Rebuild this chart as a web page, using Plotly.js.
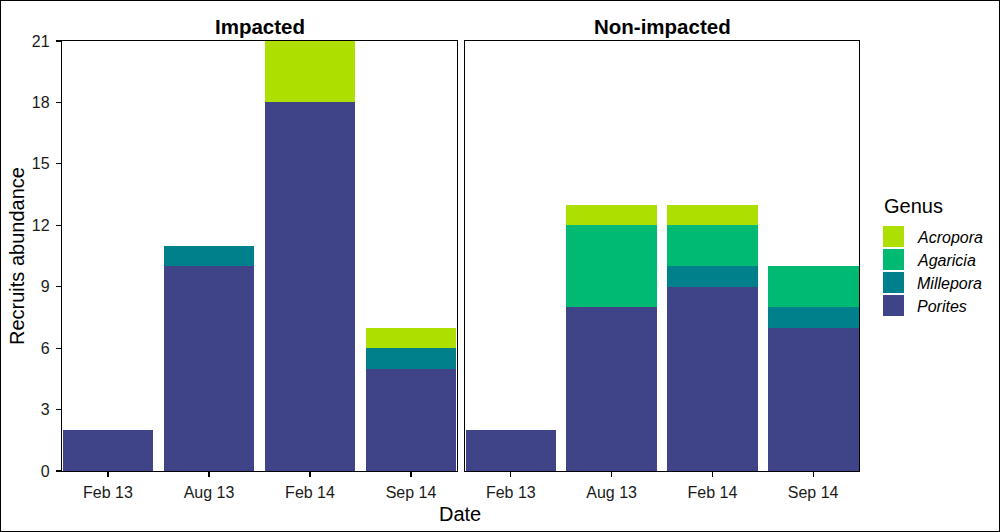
<!DOCTYPE html>
<html>
<head>
<meta charset="utf-8">
<script src="https://cdn.plot.ly/plotly-3.0.1.min.js"></script>
<style>html,body{margin:0;padding:0;background:#fff;}#chart{width:1000px;height:532px;}</style>
</head>
<body>
<div id="chart"></div>
<script>
var dates = ["Feb 13", "Aug 13", "Feb 14", "Sep 14"];
var panels = ["Impacted", "Non-impacted"];
var genera = ["Porites", "Millepora", "Agaricia", "Acropora"];
var colors = ["#3F4489", "#00808A", "#00BA74", "#ADE000"];
// values per genus: [Impacted], [Non-impacted]
var porites_imp = [2, 10, 18, 5];
var porites_non = [2, 8, 9, 7];
var millepora_imp = [0, 1, 0, 1];
var millepora_non = [0, 0, 1, 1];
var agaricia_imp = [0, 0, 0, 0];
var agaricia_non = [0, 4, 2, 2];
var acropora_imp = [0, 0, 3, 1];
var acropora_non = [0, 1, 1, 0];
var yTicks = [0, 3, 6, 9, 12, 15, 18, 21];

var impVals = [porites_imp, millepora_imp, agaricia_imp, acropora_imp];
var nonVals = [porites_non, millepora_non, agaricia_non, acropora_non];

var W = 1000, H = 532;
function px(x){ return x / W; }
function py(y){ return 1 - y / H; }

var traces = [];
for (var g = 0; g < genera.length; g++) {
  traces.push({type:'bar', x:dates, y:impVals[g], name:genera[g], marker:{color:colors[g], line:{width:0}},
    xaxis:'x', yaxis:'y', showlegend:false});
  traces.push({type:'bar', x:dates, y:nonVals[g], name:genera[g], marker:{color:colors[g], line:{width:0}},
    xaxis:'x2', yaxis:'y2', showlegend:false});
}

var fam = '"Liberation Sans", Arial, sans-serif';
var axBase = {showline:true, linecolor:'#000', linewidth:1.2, mirror:true, showgrid:false, zeroline:false,
  ticks:'outside', ticklen:5, tickcolor:'#000', tickwidth:1.2, tickfont:{family:fam, size:16, color:'#1a1a1a'}};
var yd = [py(471), py(41)];

var xaxis = Object.assign({}, axBase, {domain:[px(62), px(457)], type:'category', range:[-0.455, 3.455], anchor:'y', ticklabelstandoff:2});
var xaxis2 = Object.assign({}, axBase, {domain:[px(465), px(859)], type:'category', range:[-0.455, 3.455], anchor:'y2', ticklabelstandoff:2});
var yaxis = Object.assign({}, axBase, {domain:yd, range:[0,21], tickvals:yTicks, ticktext:yTicks.map(String), anchor:'x', ticklabelstandoff:3});
var yaxis2 = Object.assign({}, axBase, {domain:yd, range:[0,21], tickvals:yTicks, showticklabels:false, ticks:'', anchor:'x2'});

function ann(text, x, y, size, extra) {
  return Object.assign({text:text, x:px(x), y:py(y), xref:'paper', yref:'paper', xanchor:'center', yanchor:'middle',
    showarrow:false, font:{family:fam, size:size, color:'#000'}}, extra || {});
}
var annotations = [
  ann('<b>'+panels[0]+'</b>', 259.5, 26, 20.5),
  ann('<b>'+panels[1]+'</b>', 662, 26, 20.5),
  ann('Date', 460, 514, 20),
  ann('Recruits abundance', 17, 256, 20, {textangle:-90}),
  ann('Genus', 882, 206, 20, {xanchor:'left'})
];
var shapes = [
  {type:'rect', xref:'paper', yref:'paper', x0:0, x1:1, y0:0, y1:1, line:{color:'#000', width:2}}
];
// legend (top to bottom: reverse of stacking order)
var legOrder = [3, 2, 1, 0];
for (var i = 0; i < legOrder.length; i++) {
  var k = legOrder[i];
  var rowTop = 226 + i * 23;
  shapes.push({type:'rect', xref:'paper', yref:'paper', x0:px(883), x1:px(904), y0:py(rowTop + 21), y1:py(rowTop), fillcolor:colors[k], line:{width:0}});
  annotations.push(ann('<i>'+genera[k]+'</i>', 915, rowTop + 11, 16, {xanchor:'left'}));
}

var layout = {
  width:W, height:H, margin:{l:0, r:0, t:0, b:0}, paper_bgcolor:'#fff', plot_bgcolor:'#fff',
  barmode:'stack', bargap:0.1, showlegend:false, font:{family:fam, color:'#000'},
  xaxis:xaxis, xaxis2:xaxis2, yaxis:yaxis, yaxis2:yaxis2,
  annotations:annotations, shapes:shapes
};
Plotly.newPlot('chart', traces, layout, {displayModeBar:false, staticPlot:true});
</script>
</body>
</html>
